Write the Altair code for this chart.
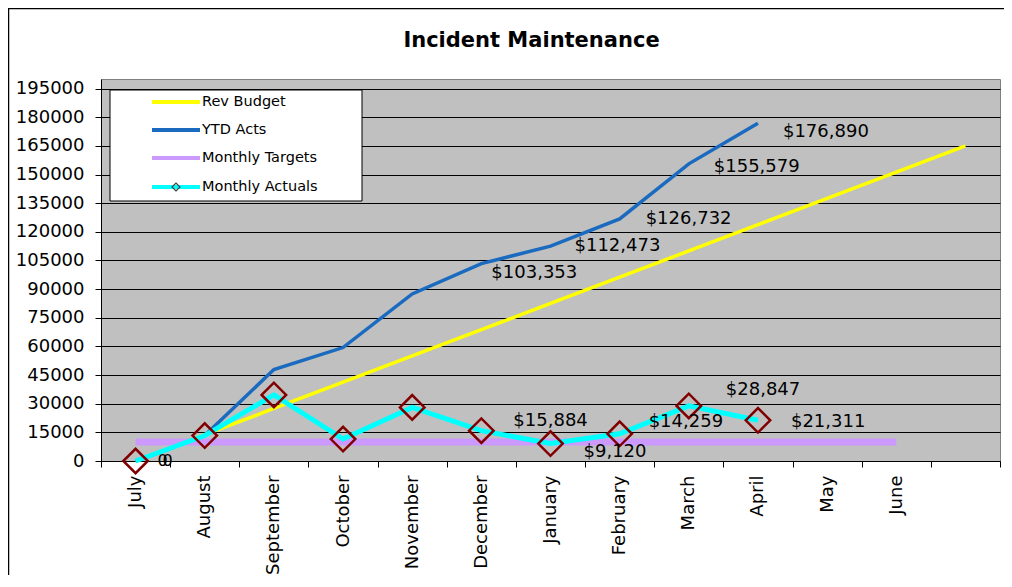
import altair as alt
import pandas as pd

# ---------------- data ----------------
months = ["July", "August", "September", "October", "November", "December",
          "January", "February", "March", "April", "May", "June", " "]
rev_budget = [0, 13750, 27500, 41250, 55000, 68750, 82500, 96250,
              110000, 123750, 137500, 151250, 165000]
ytd_acts = [0, 13300, 47900, 59400, 87469, 103353, 112473, 126732, 155579, 176890]
monthly_targets = [10000, 10000, 10000, 10000, 10000, 10000,
                   10000, 10000, 10000, 10000, 10000, 10000]
monthly_actuals = [0, 13300, 34600, 11500, 28069, 15884, 9120, 14259, 28847, 21311]
series_names = ["Rev Budget", "YTD Acts", "Monthly Targets", "Monthly Actuals"]
y_ticks = [0, 15000, 30000, 45000, 60000, 75000, 90000, 105000,
           120000, 135000, 150000, 165000, 180000, 195000]
labelled_months = ["December", "January", "February", "March", "April"]

# ---------------- styles ----------------
FONT = "DejaVu Sans"
series_colors = ["#FFFF00", "#1A6BBF", "#CC99FF", "#00FFFF"]
series_widths = [3.5, 3.5, 7, 5]
# label offsets (pixels) for YTD and monthly labels, same order as labelled_months
ytd_offsets = [(10, 9), (24, 0), (26, 0), (25, 3), (25, 9)]
mon_offsets = [(32, -10), (33, 8), (29, -12), (37, -16), (33, 2)]


def frame(values):
    return pd.DataFrame({"month": months[:len(values)], "value": values,
                         "idx": list(range(len(values)))})


x_enc = alt.X("month:N",
              scale=alt.Scale(type="band", domain=months, paddingInner=0, paddingOuter=0),
              axis=alt.Axis(title=None, labelAngle=-90, labelFont=FONT, labelFontSize=18,
                            labelColor="black", tickColor="black", tickSize=6,
                            domainColor="black", domainWidth=1, tickBand="extent",
                            labelPadding=8, grid=False, labelOverlap=False))
y_enc = alt.Y("value:Q",
              scale=alt.Scale(domain=[0, 200000], nice=False, zero=True),
              axis=alt.Axis(title=None, values=y_ticks, format="d", labelFont=FONT,
                            labelFontSize=18, labelColor="black", tickColor="black",
                            tickSize=6, domainColor="black", gridColor="black",
                            gridOpacity=1, gridWidth=1, grid=True, labelPadding=11))

df_budget = frame(rev_budget)
df_ytd = frame(ytd_acts)
df_tgt = frame(monthly_targets)
df_act = frame(monthly_actuals)

layers = []
for df, col, w in [(df_budget, series_colors[0], series_widths[0]),
                   (df_ytd, series_colors[1], series_widths[1]),
                   (df_tgt, series_colors[2], series_widths[2]),
                   (df_act, series_colors[3], series_widths[3])]:
    layers.append(
        alt.Chart(df).mark_line(color=col, strokeWidth=w, strokeCap="butt")
        .encode(x=x_enc, y=y_enc, order=alt.Order("idx:Q"))
    )

layers.append(
    alt.Chart(df_act).mark_point(shape="diamond", filled=False, size=600,
                                 strokeWidth=2.5, color="#800000", opacity=1)
    .encode(x=x_enc, y=y_enc)
)

# value labels
for i, m in enumerate(labelled_months):
    dx, dy = ytd_offsets[i]
    layers.append(
        alt.Chart(df_ytd[df_ytd["month"] == m])
        .mark_text(align="left", baseline="middle", dx=dx, dy=dy, font=FONT,
                   fontSize=18, color="black")
        .encode(x=x_enc, y=y_enc, text=alt.Text("value:Q", format="$,.0f"))
    )
    dx, dy = mon_offsets[i]
    layers.append(
        alt.Chart(df_act[df_act["month"] == m])
        .mark_text(align="left", baseline="middle", dx=dx, dy=dy, font=FONT,
                   fontSize=18, color="black")
        .encode(x=x_enc, y=y_enc, text=alt.Text("value:Q", format="$,.0f"))
    )

# the two overlapping zero labels at July
for df, dx in [(df_ytd, 22), (df_act, 27)]:
    layers.append(
        alt.Chart(df[df["month"] == "July"])
        .mark_text(align="left", baseline="middle", dx=dx, font=FONT,
                   fontSize=16, color="black")
        .encode(x=x_enc, y=y_enc, text=alt.Text("value:Q", format="d"))
    )

one = pd.DataFrame({"k": [0]})

# outer chart frame
layers.append(
    alt.Chart(one).mark_rect(fillOpacity=0, stroke="black", strokeWidth=1.5)
    .encode(x=alt.value(-92.5), x2=alt.value(960), y=alt.value(-70.5), y2=alt.value(600))
)

# legend box
layers.append(
    alt.Chart(one).mark_rect(fill="white", stroke="black", strokeWidth=1)
    .encode(x=alt.value(9), x2=alt.value(261), y=alt.value(11), y2=alt.value(122))
)
legend_y = [23, 51, 79, 108]
for i, name in enumerate(series_names):
    ly = legend_y[i]
    layers.append(
        alt.Chart(one).mark_rule(color=series_colors[i], strokeWidth=4, strokeCap="butt")
        .encode(x=alt.value(51), x2=alt.value(99), y=alt.value(ly))
    )
    layers.append(
        alt.Chart(pd.DataFrame({"label": [name]}))
        .mark_text(align="left", baseline="middle", font=FONT, fontSize=14.5, color="black")
        .encode(x=alt.value(101), y=alt.value(ly), text="label:N")
    )
layers.append(
    alt.Chart(one).mark_point(shape="diamond", filled=False, size=64, strokeWidth=1.2,
                              color="#404040", opacity=1)
    .encode(x=alt.value(75), y=alt.value(legend_y[3]))
)

chart = (
    alt.layer(*layers)
    .properties(
        width=899, height=382,
        title=alt.TitleParams(text="Incident Maintenance", font=FONT, fontSize=21,
                              fontWeight="bold", anchor="middle", frame="group",
                              offset=-60, baseline="alphabetic", dx=-19, color="black"),
        autosize=alt.AutoSizeParams(type="none"),
        padding={"left": 93, "top": 71, "right": 4, "bottom": 114},
        background="white",
    )
    .configure_view(fill="#C0C0C0", stroke="#808080", strokeWidth=1)
)

chart.save("out.html", embed_options={"renderer": "svg", "actions": False})
